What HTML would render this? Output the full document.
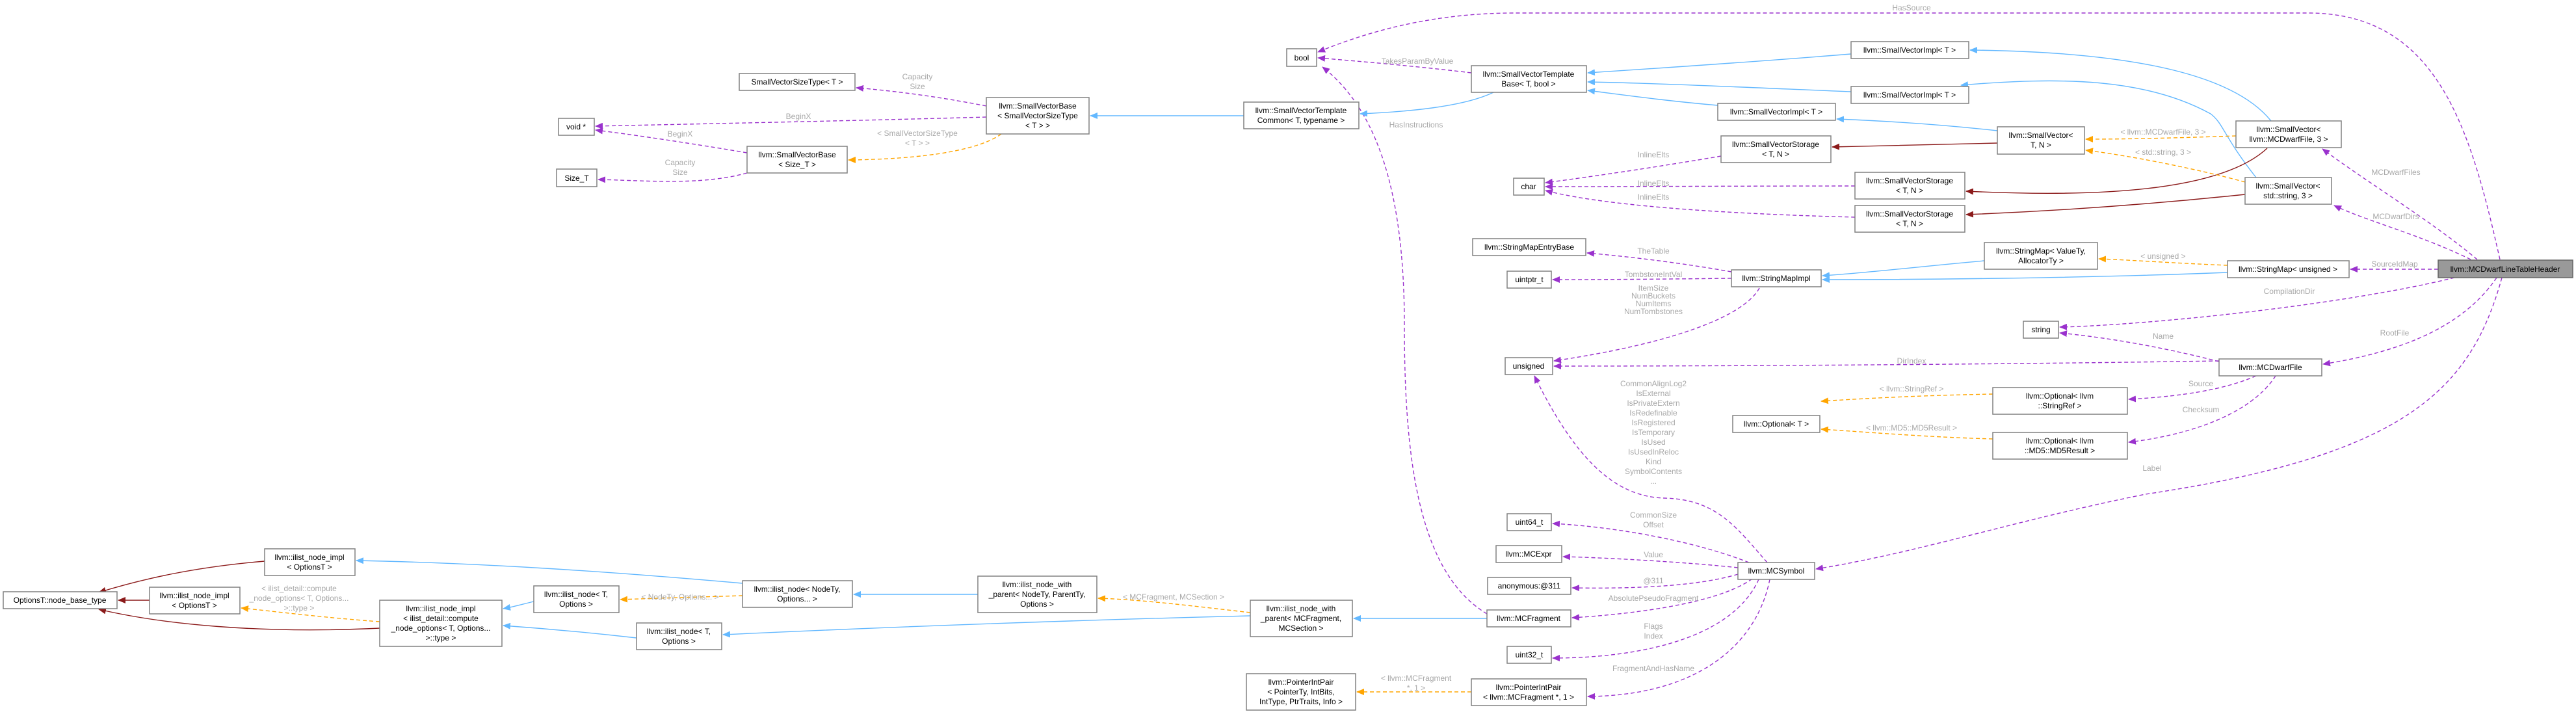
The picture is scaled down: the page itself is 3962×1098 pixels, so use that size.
<!DOCTYPE html>
<html><head><meta charset="utf-8">
<style>
html,body{margin:0;padding:0;background:#fff;}
svg{display:block;}
text{font-family:"Liberation Sans",sans-serif;}
.n{fill:#fff;stroke:#808080;stroke-width:1.5;}
.t{font-size:12px;fill:#000;text-anchor:middle;}
.l{font-size:12px;fill:#a8a8a8;text-anchor:middle;}
.p{fill:none;stroke:#9a32cd;stroke-width:1.4;stroke-dasharray:6,4;}
.o{fill:none;stroke:#ffa500;stroke-width:1.4;stroke-dasharray:6,4;}
.b{fill:none;stroke:#63b8ff;stroke-width:1.4;}
.r{fill:none;stroke:#8b1a1a;stroke-width:1.4;}
</style></head><body>
<svg width="3962" height="1098" viewBox="0 0 3962 1098" xmlns="http://www.w3.org/2000/svg">
<defs>
<marker id="mp" markerWidth="12" markerHeight="10" refX="11" refY="5" orient="auto" markerUnits="userSpaceOnUse"><path d="M0,0 L12,5 L0,10 z" fill="#9a32cd"/></marker>
<marker id="mo" markerWidth="12" markerHeight="10" refX="11" refY="5" orient="auto" markerUnits="userSpaceOnUse"><path d="M0,0 L12,5 L0,10 z" fill="#ffa500"/></marker>
<marker id="mb" markerWidth="12" markerHeight="10" refX="11" refY="5" orient="auto" markerUnits="userSpaceOnUse"><path d="M0,0 L12,5 L0,10 z" fill="#63b8ff"/></marker>
<marker id="mr" markerWidth="12" markerHeight="10" refX="11" refY="5" orient="auto" markerUnits="userSpaceOnUse"><path d="M0,0 L12,5 L0,10 z" fill="#8b1a1a"/></marker>
</defs>

<!-- purple usage edges -->
<g marker-end="url(#mp)">
<path class="p" d="M3845,399 C3800,200 3750,20 3550,20 L2330,20 C2200,20 2100,50 2027,80"/>
<path class="p" d="M2263,112 C2180,102 2100,95 2027,89"/>
<path class="p" d="M2287,944 C2180,880 2160,700 2160,500 C2160,300 2120,170 2034,103"/>
<path class="p" d="M1517,163 C1450,150 1380,140 1317,135"/>
<path class="p" d="M1517,180 C1300,186 1100,190 916,194"/>
<path class="p" d="M1149,235 C1060,220 980,208 916,200"/>
<path class="p" d="M1149,266 C1080,285 1000,278 920,276"/>
<path class="p" d="M2647,240 C2560,255 2460,270 2377,281"/>
<path class="p" d="M2853,286 C2700,286 2500,287 2377,287"/>
<path class="p" d="M2853,334 C2700,330 2480,320 2377,293"/>
<path class="p" d="M2663,418 C2590,405 2510,395 2441,389"/>
<path class="p" d="M2663,428 C2580,429 2480,430 2388,430"/>
<path class="p" d="M2706,443 C2680,490 2560,530 2390,555"/>
<path class="p" d="M3413,555 C3100,560 2700,563 2390,563"/>
<path class="p" d="M2718,865 C2670,810 2640,768 2560,766 C2480,764 2420,700 2360,578"/>
<path class="p" d="M2690,865 C2600,830 2480,810 2388,805"/>
<path class="p" d="M2673,873 C2600,865 2480,858 2404,856"/>
<path class="p" d="M2673,883 C2600,905 2480,905 2418,904"/>
<path class="p" d="M2695,890 C2640,930 2500,945 2418,950"/>
<path class="p" d="M2705,891 C2660,990 2500,1012 2388,1012"/>
<path class="p" d="M2722,891 C2700,1000 2600,1070 2442,1071"/>
<path class="p" d="M3810,399 C3740,340 3640,280 3572,229"/>
<path class="p" d="M3800,399 C3720,360 3640,340 3590,316"/>
<path class="p" d="M3750,414 L3615,414"/>
<path class="p" d="M3775,427 C3600,470 3300,500 3168,503"/>
<path class="p" d="M3413,556 C3330,535 3250,520 3168,512"/>
<path class="p" d="M3840,427 C3790,500 3700,540 3573,560"/>
<path class="p" d="M3470,578 C3420,600 3350,610 3274,614"/>
<path class="p" d="M3500,578 C3460,640 3360,670 3274,680"/>
<path class="p" d="M3848,427 C3800,600 3700,700 3300,760 C3100,800 2950,850 2793,875"/>
</g>

<!-- blue inheritance -->
<g marker-end="url(#mb)">
<path class="b" d="M2297,142 C2250,165 2160,172 2092,175"/>
<path class="b" d="M1913,178 L1677,178"/>
<path class="b" d="M2847,83 C2700,95 2550,105 2442,112"/>
<path class="b" d="M2847,141 C2700,135 2550,128 2442,126"/>
<path class="b" d="M2642,162 C2560,155 2490,145 2442,139"/>
<path class="b" d="M3072,201 C2990,192 2900,186 2825,183"/>
<path class="b" d="M3493,186 C3440,120 3300,80 3030,77"/>
<path class="b" d="M3470,273 C3420,210 3420,190 3400,175 C3300,120 3170,118 3016,131"/>
<path class="b" d="M3052,401 C2950,410 2870,420 2803,424"/>
<path class="b" d="M3426,419 C3200,428 2950,430 2803,430"/>
<path class="b" d="M2287,951 L2082,951"/>
<path class="b" d="M1923,947 C1600,955 1350,965 1112,976"/>
<path class="b" d="M1504,914 L1313,914"/>
<path class="b" d="M1142,897 C950,880 750,866 548,862"/>
<path class="b" d="M821,925 C800,930 790,933 774,936"/>
<path class="b" d="M979,981 C900,972 830,966 774,962"/>
</g>

<!-- dark red -->
<g marker-end="url(#mr)">
<path class="r" d="M3072,220 C2980,222 2900,224 2818,226"/>
<path class="r" d="M3487,228 C3420,290 3250,305 3024,294"/>
<path class="r" d="M3453,299 C3300,315 3150,325 3024,330"/>
<path class="r" d="M407,863 C300,872 220,890 152,911"/>
<path class="r" d="M230,923 L182,923"/>
<path class="r" d="M584,966 C400,975 250,960 152,937"/>
</g>

<!-- orange template -->
<g marker-end="url(#mo)">
<path class="o" d="M1540,206 C1500,235 1400,245 1305,246"/>
<path class="o" d="M3439,209 C3350,212 3280,214 3208,214"/>
<path class="o" d="M3453,280 C3380,260 3280,240 3208,231"/>
<path class="o" d="M3426,408 C3350,405 3280,400 3228,398"/>
<path class="o" d="M3065,606 C2960,608 2880,612 2801,617"/>
<path class="o" d="M3065,675 C2960,672 2880,665 2801,660"/>
<path class="o" d="M1923,942 C1860,935 1760,922 1689,920"/>
<path class="o" d="M1142,916 C1080,918 1010,920 954,922"/>
<path class="o" d="M584,956 C500,950 420,940 371,935"/>
<path class="o" d="M2263,1064 L2087,1064"/>
</g>

<!-- edge labels -->
<g class="l">
<text class="l" x="2940" y="16">HasSource</text>
<text class="l" x="2180" y="98">TakesParamByValue</text>
<text class="l" x="2178" y="196">HasInstructions</text>
<text class="l" x="1411" y="122">Capacity</text><text class="l" x="1411" y="137">Size</text>
<text class="l" x="1228" y="183">BeginX</text>
<text class="l" x="1046" y="210">BeginX</text>
<text class="l" x="1046" y="254">Capacity</text><text class="l" x="1046" y="269">Size</text>
<text class="l" x="1411" y="209">&lt; SmallVectorSizeType</text><text class="l" x="1411" y="224">&lt; T &gt; &gt;</text>
<text class="l" x="2543" y="242">InlineElts</text>
<text class="l" x="2543" y="286">InlineElts</text>
<text class="l" x="2543" y="307">InlineElts</text>
<text class="l" x="2543" y="390">TheTable</text>
<text class="l" x="2543" y="426">TombstoneIntVal</text>
<text class="l" x="2543" y="447">ItemSize</text><text class="l" x="2543" y="459">NumBuckets</text><text class="l" x="2543" y="471">NumItems</text><text class="l" x="2543" y="483">NumTombstones</text>
<text class="l" x="2940" y="559">DirIndex</text>
<text class="l" x="2543" y="594">CommonAlignLog2</text>
<text class="l" x="2543" y="609">IsExternal</text>
<text class="l" x="2543" y="624">IsPrivateExtern</text>
<text class="l" x="2543" y="639">IsRedefinable</text>
<text class="l" x="2543" y="654">IsRegistered</text>
<text class="l" x="2543" y="669">IsTemporary</text>
<text class="l" x="2543" y="684">IsUsed</text>
<text class="l" x="2543" y="699">IsUsedInReloc</text>
<text class="l" x="2543" y="714">Kind</text>
<text class="l" x="2543" y="729">SymbolContents</text>
<text class="l" x="2543" y="744">...</text>
<text class="l" x="2543" y="796">CommonSize</text><text class="l" x="2543" y="811">Offset</text>
<text class="l" x="2543" y="857">Value</text>
<text class="l" x="2543" y="897">@311</text>
<text class="l" x="2543" y="924">AbsolutePseudoFragment</text>
<text class="l" x="2543" y="967">Flags</text><text class="l" x="2543" y="982">Index</text>
<text class="l" x="2543" y="1032">FragmentAndHasName</text>
<text class="l" x="2178" y="1047">&lt; llvm::MCFragment</text><text class="l" x="2178" y="1062">*, 1 &gt;</text>
<text class="l" x="3327" y="207">&lt; llvm::MCDwarfFile, 3 &gt;</text>
<text class="l" x="3327" y="238">&lt; std::string, 3 &gt;</text>
<text class="l" x="3327" y="398">&lt; unsigned &gt;</text>
<text class="l" x="3685" y="269">MCDwarfFiles</text>
<text class="l" x="3685" y="337">MCDwarfDirs</text>
<text class="l" x="3683" y="410">SourceIdMap</text>
<text class="l" x="3521" y="452">CompilationDir</text>
<text class="l" x="3327" y="521">Name</text>
<text class="l" x="3683" y="516">RootFile</text>
<text class="l" x="3385" y="594">Source</text>
<text class="l" x="3385" y="634">Checksum</text>
<text class="l" x="2940" y="602">&lt; llvm::StringRef &gt;</text>
<text class="l" x="2940" y="662">&lt; llvm::MD5::MD5Result &gt;</text>
<text class="l" x="3310" y="724">Label</text>
<text class="l" x="1805" y="922">&lt; MCFragment, MCSection &gt;</text>
<text class="l" x="1046" y="922">&lt; NodeTy, Options... &gt;</text>
<text class="l" x="460" y="909">&lt; ilist_detail::compute</text><text class="l" x="460" y="924">_node_options&lt; T, Options...</text><text class="l" x="460" y="939">&gt;::type &gt;</text>
</g>

<!-- nodes -->
<g>
<rect x="3750" y="400" width="207" height="27" fill="#999" stroke="#666" stroke-width="1.5"/><text class="t" x="3853" y="418">llvm::MCDwarfLineTableHeader</text>
<rect class="n" x="1979" y="75" width="46" height="27"/><text class="t" x="2002" y="93">bool</text>
<rect class="n" x="2263" y="101" width="177" height="41"/><text class="t" x="2351" y="118">llvm::SmallVectorTemplate</text><text class="t" x="2351" y="133">Base&lt; T, bool &gt;</text>
<rect class="n" x="2847" y="64" width="181" height="26"/><text class="t" x="2937" y="81">llvm::SmallVectorImpl&lt; T &gt;</text>
<rect class="n" x="2847" y="133" width="181" height="26"/><text class="t" x="2937" y="150">llvm::SmallVectorImpl&lt; T &gt;</text>
<rect class="n" x="2642" y="159" width="181" height="26"/><text class="t" x="2732" y="176">llvm::SmallVectorImpl&lt; T &gt;</text>
<rect class="n" x="2647" y="209" width="169" height="41"/><text class="t" x="2731" y="226">llvm::SmallVectorStorage</text><text class="t" x="2731" y="241">&lt; T, N &gt;</text>
<rect class="n" x="2853" y="265" width="169" height="41"/><text class="t" x="2937" y="282">llvm::SmallVectorStorage</text><text class="t" x="2937" y="297">&lt; T, N &gt;</text>
<rect class="n" x="2853" y="316" width="169" height="41"/><text class="t" x="2937" y="333">llvm::SmallVectorStorage</text><text class="t" x="2937" y="348">&lt; T, N &gt;</text>
<rect class="n" x="2328" y="274" width="47" height="26"/><text class="t" x="2351" y="291">char</text>
<rect class="n" x="2265" y="367" width="174" height="26"/><text class="t" x="2352" y="384">llvm::StringMapEntryBase</text>
<rect class="n" x="2318" y="417" width="68" height="26"/><text class="t" x="2352" y="434">uintptr_t</text>
<rect class="n" x="2663" y="415" width="138" height="26"/><text class="t" x="2732" y="432">llvm::StringMapImpl</text>
<rect class="n" x="1913" y="157" width="177" height="41"/><text class="t" x="2001" y="174">llvm::SmallVectorTemplate</text><text class="t" x="2001" y="189">Common&lt; T, typename &gt;</text>
<rect class="n" x="1137" y="113" width="178" height="26"/><text class="t" x="1226" y="130">SmallVectorSizeType&lt; T &gt;</text>
<rect class="n" x="1517" y="150" width="158" height="56"/><text class="t" x="1596" y="167">llvm::SmallVectorBase</text><text class="t" x="1596" y="182">&lt; SmallVectorSizeType</text><text class="t" x="1596" y="197">&lt; T &gt; &gt;</text>
<rect class="n" x="859" y="182" width="55" height="26"/><text class="t" x="886" y="199">void *</text>
<rect class="n" x="1149" y="225" width="154" height="41"/><text class="t" x="1226" y="242">llvm::SmallVectorBase</text><text class="t" x="1226" y="257">&lt; Size_T &gt;</text>
<rect class="n" x="856" y="260" width="62" height="27"/><text class="t" x="887" y="278">Size_T</text>
<rect class="n" x="3072" y="195" width="134" height="42"/><text class="t" x="3139" y="212">llvm::SmallVector&lt;</text><text class="t" x="3139" y="227">T, N &gt;</text>
<rect class="n" x="3439" y="186" width="162" height="41"/><text class="t" x="3520" y="203">llvm::SmallVector&lt;</text><text class="t" x="3520" y="218">llvm::MCDwarfFile, 3 &gt;</text>
<rect class="n" x="3453" y="273" width="133" height="41"/><text class="t" x="3519" y="290">llvm::SmallVector&lt;</text><text class="t" x="3519" y="305">std::string, 3 &gt;</text>
<rect class="n" x="3052" y="373" width="174" height="41"/><text class="t" x="3139" y="390">llvm::StringMap&lt; ValueTy,</text><text class="t" x="3139" y="405">AllocatorTy &gt;</text>
<rect class="n" x="3426" y="401" width="187" height="26"/><text class="t" x="3519" y="418">llvm::StringMap&lt; unsigned &gt;</text>
<rect class="n" x="3112" y="494" width="54" height="26"/><text class="t" x="3139" y="511">string</text>
<rect class="n" x="3413" y="552" width="158" height="26"/><text class="t" x="3492" y="569">llvm::MCDwarfFile</text>
<rect class="n" x="2315" y="550" width="73" height="26"/><text class="t" x="2351" y="567">unsigned</text>
<rect class="n" x="2665" y="639" width="134" height="26"/><text class="t" x="2732" y="656">llvm::Optional&lt; T &gt;</text>
<rect class="n" x="3065" y="596" width="207" height="41"/><text class="t" x="3168" y="613">llvm::Optional&lt; llvm</text><text class="t" x="3168" y="628">::StringRef &gt;</text>
<rect class="n" x="3065" y="665" width="207" height="41"/><text class="t" x="3168" y="682">llvm::Optional&lt; llvm</text><text class="t" x="3168" y="697">::MD5::MD5Result &gt;</text>
<rect class="n" x="2318" y="790" width="68" height="26"/><text class="t" x="2352" y="807">uint64_t</text>
<rect class="n" x="2301" y="839" width="101" height="26"/><text class="t" x="2351" y="856">llvm::MCExpr</text>
<rect class="n" x="2288" y="888" width="128" height="26"/><text class="t" x="2352" y="905">anonymous:@311</text>
<rect class="n" x="2287" y="938" width="129" height="26"/><text class="t" x="2351" y="955">llvm::MCFragment</text>
<rect class="n" x="2318" y="994" width="68" height="26"/><text class="t" x="2352" y="1011">uint32_t</text>
<rect class="n" x="2263" y="1044" width="177" height="41"/><text class="t" x="2351" y="1061">llvm::PointerIntPair</text><text class="t" x="2351" y="1076">&lt; llvm::MCFragment *, 1 &gt;</text>
<rect class="n" x="2673" y="865" width="118" height="26"/><text class="t" x="2732" y="882">llvm::MCSymbol</text>
<rect class="n" x="1923" y="923" width="157" height="56"/><text class="t" x="2001" y="940">llvm::ilist_node_with</text><text class="t" x="2001" y="955">_parent&lt; MCFragment,</text><text class="t" x="2001" y="970">MCSection &gt;</text>
<rect class="n" x="1917" y="1036" width="168" height="56"/><text class="t" x="2001" y="1053">llvm::PointerIntPair</text><text class="t" x="2001" y="1068">&lt; PointerTy, IntBits,</text><text class="t" x="2001" y="1083">IntType, PtrTraits, Info &gt;</text>
<rect class="n" x="1142" y="893" width="169" height="41"/><text class="t" x="1226" y="910">llvm::ilist_node&lt; NodeTy,</text><text class="t" x="1226" y="925">Options... &gt;</text>
<rect class="n" x="1504" y="886" width="183" height="56"/><text class="t" x="1595" y="903">llvm::ilist_node_with</text><text class="t" x="1595" y="918">_parent&lt; NodeTy, ParentTy,</text><text class="t" x="1595" y="933">Options &gt;</text>
<rect class="n" x="979" y="958" width="131" height="41"/><text class="t" x="1044" y="975">llvm::ilist_node&lt; T,</text><text class="t" x="1044" y="990">Options &gt;</text>
<rect class="n" x="5" y="910" width="175" height="26"/><text class="t" x="92" y="927">OptionsT::node_base_type</text>
<rect class="n" x="407" y="844" width="139" height="41"/><text class="t" x="476" y="861">llvm::ilist_node_impl</text><text class="t" x="476" y="876">&lt; OptionsT &gt;</text>
<rect class="n" x="230" y="903" width="139" height="41"/><text class="t" x="299" y="920">llvm::ilist_node_impl</text><text class="t" x="299" y="935">&lt; OptionsT &gt;</text>
<rect class="n" x="584" y="923" width="188" height="71"/><text class="t" x="678" y="940">llvm::ilist_node_impl</text><text class="t" x="678" y="955">&lt; ilist_detail::compute</text><text class="t" x="678" y="970">_node_options&lt; T, Options...</text><text class="t" x="678" y="985">&gt;::type &gt;</text>
<rect class="n" x="821" y="901" width="131" height="41"/><text class="t" x="886" y="918">llvm::ilist_node&lt; T,</text><text class="t" x="886" y="933">Options &gt;</text>
</g>
</svg>
</body></html>
